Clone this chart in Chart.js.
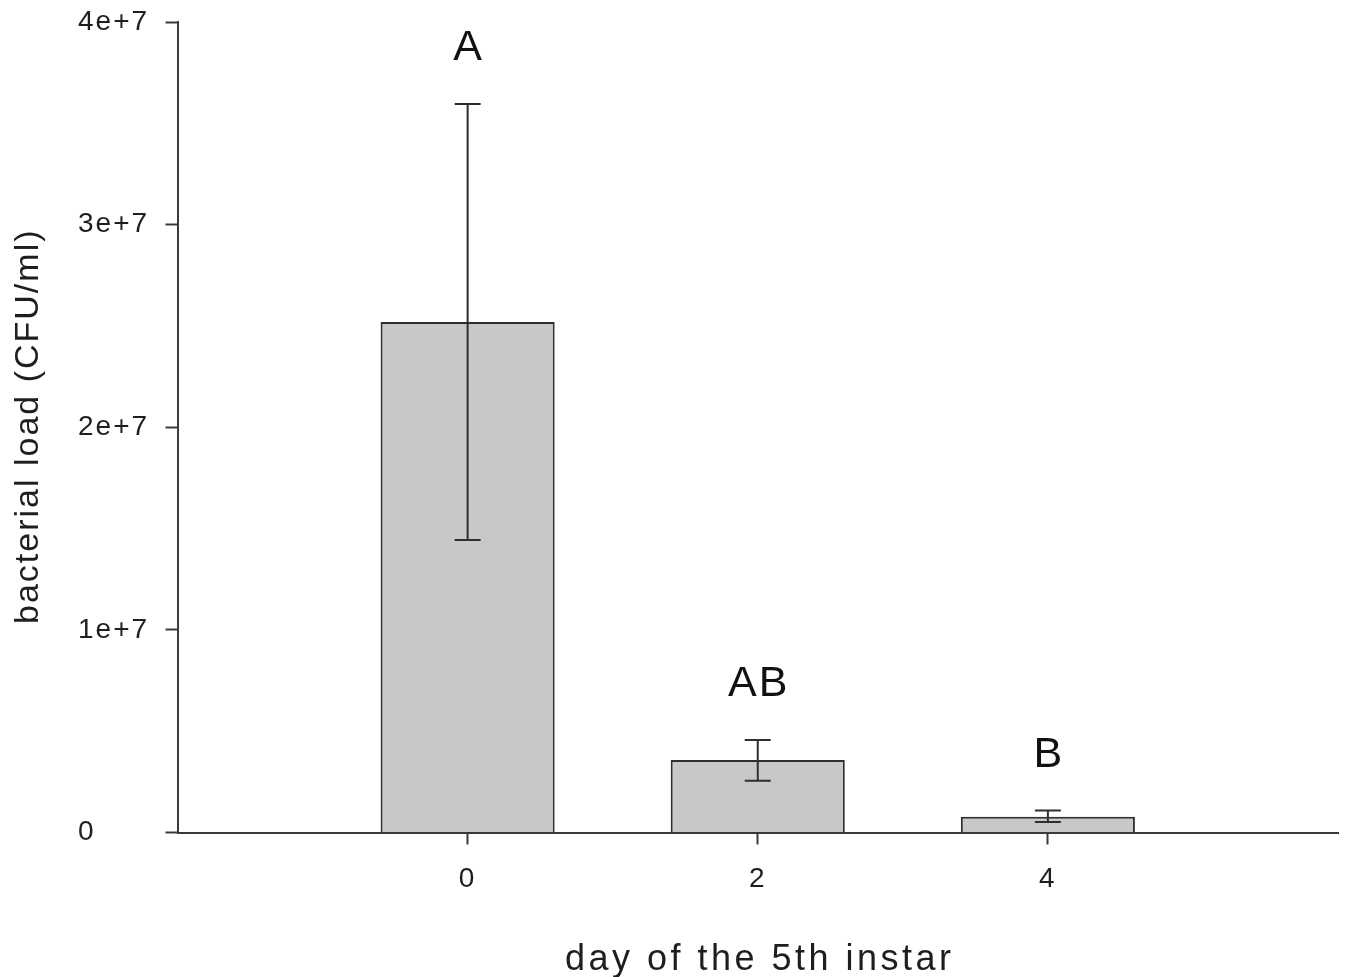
<!DOCTYPE html>
<html>
<head>
<meta charset="utf-8">
<script src="https://cdn.jsdelivr.net/npm/chart.js@4/dist/chart.umd.min.js"></script>
<style>
  html, body { margin: 0; padding: 0; background: #ffffff; }
  #c { display: block; }
</style>
</head>
<body>
<canvas id="c" width="1347" height="977"></canvas>
<script>
// ---- data ----
const days = [0, 2, 4];
const meanLoad = [2.52e7, 0.358e7, 0.078e7];
const errUpper = [3.595e7, 0.457e7, 0.108e7];
const errLower = [1.444e7, 0.256e7, 0.052e7];
const groupLetters = ['A', 'AB', 'B'];
const yTicks = [0, 1e7, 2e7, 3e7, 4e7];
const xTitle = 'day of the 5th instar';
const yTitle = 'bacterial load (CFU/ml)';

const FONT = '"Liberation Sans", Arial, Helvetica, sans-serif';
const INK = '#1e1e1e';
const AXIS = '#3a3a3a';

function fmtTick(v) {
  if (v === 0) return '0';
  return v.toExponential(0); // e.g. 1e+7
}

const decorPlugin = {
  id: 'decor',
  beforeDraw(chart) {
    chart.ctx.letterSpacing = '2px';
  },
  afterDatasetsDraw(chart) {
    const ctx = chart.ctx;
    const xs = chart.scales.x, ys = chart.scales.y;
    ctx.save();
    // error bars
    ctx.strokeStyle = '#2e2e2e';
    ctx.lineWidth = 2;
    const cap = 13;
    for (let i = 0; i < days.length; i++) {
      const px = xs.getPixelForValue(days[i]);
      const pTop = ys.getPixelForValue(errUpper[i]);
      const pBot = ys.getPixelForValue(errLower[i]);
      ctx.beginPath();
      ctx.moveTo(px, pTop); ctx.lineTo(px, pBot);
      ctx.moveTo(px - cap, pTop); ctx.lineTo(px + cap, pTop);
      ctx.moveTo(px - cap, pBot); ctx.lineTo(px + cap, pBot);
      ctx.stroke();
    }
    // group letters
    ctx.fillStyle = '#111111';
    ctx.font = '43px ' + FONT;
    ctx.textAlign = 'center';
    ctx.textBaseline = 'alphabetic';
    ctx.letterSpacing = '2px';
    for (let i = 0; i < days.length; i++) {
      const px = xs.getPixelForValue(days[i]);
      const pTop = ys.getPixelForValue(errUpper[i]);
      ctx.fillText(groupLetters[i], px + 1, pTop - 44);
    }
    // axis titles
    const area = chart.chartArea;
    ctx.fillStyle = INK;
    ctx.font = '36px ' + FONT;
    ctx.letterSpacing = '3.5px';
    ctx.fillText(xTitle, (area.left + area.right) / 2 + 2, 970);
    ctx.translate(38, (area.top + area.bottom) / 2);
    ctx.rotate(-Math.PI / 2);
    ctx.font = '34px ' + FONT;
    ctx.letterSpacing = '2px';
    ctx.fillText(yTitle, 1, 0);
    ctx.restore();
  }
};

new Chart(document.getElementById('c'), {
  type: 'bar',
  data: {
    datasets: [{
      data: days.map((d, i) => ({ x: d, y: meanLoad[i] })),
      backgroundColor: '#c8c8c8',
      borderColor: '#2e2e2e',
      borderWidth: 2,
      borderSkipped: 'start',
      barPercentage: 0.6,
      categoryPercentage: 1.0
    }]
  },
  options: {
    responsive: false,
    animation: false,
    devicePixelRatio: 1,
    layout: { padding: { left: 78, top: 22, right: 9, bottom: 0 } },
    plugins: { legend: { display: false }, tooltip: { enabled: false } },
    scales: {
      x: {
        type: 'linear',
        min: -2,
        max: 6,
        offset: false,
        afterBuildTicks(scale) { scale.ticks = days.map(v => ({ value: v })); },
        afterFit(scale) { scale.height = 144.5; scale.paddingLeft = 0; scale.paddingRight = 0; },
        grid: { offset: false, drawOnChartArea: false, drawTicks: true, tickLength: 12, tickColor: AXIS, tickWidth: 2 },
        border: { display: true, color: AXIS, width: 2 },
        ticks: {
          autoSkip: false,
          maxRotation: 0,
          padding: 18,
          color: INK,
          font: { family: FONT, size: 28 },
          callback: (v) => String(v)
        }
      },
      y: {
        min: 0,
        max: 4e7,
        afterBuildTicks(scale) { scale.ticks = yTicks.map(v => ({ value: v })); },
        afterFit(scale) { scale.width = 99.5; scale.paddingTop = 0; scale.paddingBottom = 0; },
        grid: { drawOnChartArea: false, drawTicks: true, tickLength: 12, tickColor: AXIS, tickWidth: 2 },
        border: { display: true, color: AXIS, width: 2 },
        ticks: {
          crossAlign: 'far',
          padding: 19,
          color: INK,
          font: { family: FONT, size: 28 },
          callback: (v) => fmtTick(v)
        }
      }
    }
  },
  plugins: [decorPlugin]
});
</script>
</body>
</html>
